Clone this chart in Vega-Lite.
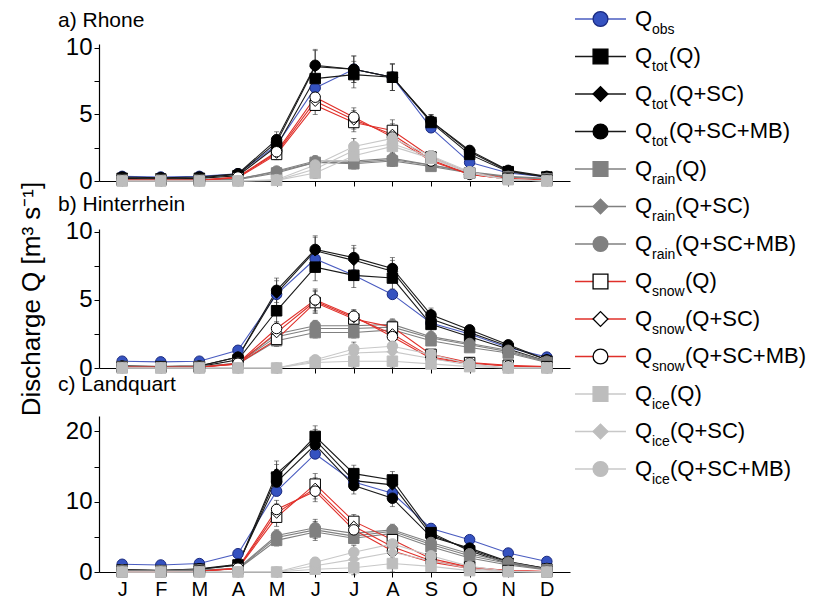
{
"$schema": "https://vega.github.io/schema/vega-lite/v6.json",
"padding": {"left": 18, "top": 7, "right": 0, "bottom": 0},
"background": "white",
"config": {"view": {"stroke": null}, "font": "Liberation Sans", "axis": {"grid": false, "domainColor": "#000", "tickColor": "#000", "labelColor": "#000", "titleColor": "#000", "labelFont": "Liberation Sans", "titleFont": "Liberation Sans", "titleFontWeight": "normal"}},
"data": {"values": [
{"p":"a","s":"obs","m":1,"v":0.35,"e":0},{"p":"a","s":"obs","m":2,"v":0.3,"e":0},{"p":"a","s":"obs","m":3,"v":0.35,"e":0},{"p":"a","s":"obs","m":4,"v":0.55,"e":0},{"p":"a","s":"obs","m":5,"v":2.7,"e":0},{"p":"a","s":"obs","m":6,"v":7.0,"e":0},{"p":"a","s":"obs","m":7,"v":8.4,"e":0},{"p":"a","s":"obs","m":8,"v":7.8,"e":0},{"p":"a","s":"obs","m":9,"v":4.0,"e":0},{"p":"a","s":"obs","m":10,"v":1.4,"e":0},{"p":"a","s":"obs","m":11,"v":0.6,"e":0},{"p":"a","s":"obs","m":12,"v":0.3,"e":0},
{"p":"a","s":"tQ","m":1,"v":0.2,"e":0.1},{"p":"a","s":"tQ","m":2,"v":0.15,"e":0.1},{"p":"a","s":"tQ","m":3,"v":0.2,"e":0.1},{"p":"a","s":"tQ","m":4,"v":0.4,"e":0.15},{"p":"a","s":"tQ","m":5,"v":2.6,"e":0.6},{"p":"a","s":"tQ","m":6,"v":7.7,"e":1.2},{"p":"a","s":"tQ","m":7,"v":8.0,"e":1.0},{"p":"a","s":"tQ","m":8,"v":7.8,"e":1.0},{"p":"a","s":"tQ","m":9,"v":4.4,"e":0.5},{"p":"a","s":"tQ","m":10,"v":2.0,"e":0.35},{"p":"a","s":"tQ","m":11,"v":0.7,"e":0.15},{"p":"a","s":"tQ","m":12,"v":0.3,"e":0.1},
{"p":"a","s":"tS","m":1,"v":0.25,"e":0.1},{"p":"a","s":"tS","m":2,"v":0.2,"e":0.1},{"p":"a","s":"tS","m":3,"v":0.25,"e":0.1},{"p":"a","s":"tS","m":4,"v":0.5,"e":0.15},{"p":"a","s":"tS","m":5,"v":2.9,"e":0.6},{"p":"a","s":"tS","m":6,"v":8.6,"e":1.2},{"p":"a","s":"tS","m":7,"v":8.4,"e":1.0},{"p":"a","s":"tS","m":8,"v":7.8,"e":1.0},{"p":"a","s":"tS","m":9,"v":4.5,"e":0.5},{"p":"a","s":"tS","m":10,"v":2.2,"e":0.35},{"p":"a","s":"tS","m":11,"v":0.75,"e":0.15},{"p":"a","s":"tS","m":12,"v":0.3,"e":0.1},
{"p":"a","s":"tM","m":1,"v":0.3,"e":0.1},{"p":"a","s":"tM","m":2,"v":0.25,"e":0.1},{"p":"a","s":"tM","m":3,"v":0.3,"e":0.1},{"p":"a","s":"tM","m":4,"v":0.55,"e":0.15},{"p":"a","s":"tM","m":5,"v":3.1,"e":0.6},{"p":"a","s":"tM","m":6,"v":8.7,"e":1.2},{"p":"a","s":"tM","m":7,"v":8.4,"e":1.0},{"p":"a","s":"tM","m":8,"v":7.8,"e":1.0},{"p":"a","s":"tM","m":9,"v":4.5,"e":0.5},{"p":"a","s":"tM","m":10,"v":2.3,"e":0.35},{"p":"a","s":"tM","m":11,"v":0.8,"e":0.15},{"p":"a","s":"tM","m":12,"v":0.35,"e":0.1},
{"p":"a","s":"rQ","m":1,"v":0.1,"e":0.05},{"p":"a","s":"rQ","m":2,"v":0.1,"e":0.05},{"p":"a","s":"rQ","m":3,"v":0.1,"e":0.05},{"p":"a","s":"rQ","m":4,"v":0.1,"e":0.1},{"p":"a","s":"rQ","m":5,"v":0.6,"e":0.3},{"p":"a","s":"rQ","m":6,"v":1.4,"e":0.4},{"p":"a","s":"rQ","m":7,"v":1.3,"e":0.4},{"p":"a","s":"rQ","m":8,"v":1.5,"e":0.4},{"p":"a","s":"rQ","m":9,"v":1.1,"e":0.3},{"p":"a","s":"rQ","m":10,"v":0.6,"e":0.2},{"p":"a","s":"rQ","m":11,"v":0.3,"e":0.1},{"p":"a","s":"rQ","m":12,"v":0.15,"e":0.05},
{"p":"a","s":"rS","m":1,"v":0.1,"e":0.05},{"p":"a","s":"rS","m":2,"v":0.1,"e":0.05},{"p":"a","s":"rS","m":3,"v":0.1,"e":0.05},{"p":"a","s":"rS","m":4,"v":0.15,"e":0.1},{"p":"a","s":"rS","m":5,"v":0.7,"e":0.3},{"p":"a","s":"rS","m":6,"v":1.4,"e":0.4},{"p":"a","s":"rS","m":7,"v":1.4,"e":0.4},{"p":"a","s":"rS","m":8,"v":1.6,"e":0.4},{"p":"a","s":"rS","m":9,"v":1.2,"e":0.3},{"p":"a","s":"rS","m":10,"v":0.65,"e":0.2},{"p":"a","s":"rS","m":11,"v":0.3,"e":0.1},{"p":"a","s":"rS","m":12,"v":0.15,"e":0.05},
{"p":"a","s":"rM","m":1,"v":0.1,"e":0.05},{"p":"a","s":"rM","m":2,"v":0.1,"e":0.05},{"p":"a","s":"rM","m":3,"v":0.1,"e":0.05},{"p":"a","s":"rM","m":4,"v":0.15,"e":0.1},{"p":"a","s":"rM","m":5,"v":0.75,"e":0.3},{"p":"a","s":"rM","m":6,"v":1.5,"e":0.4},{"p":"a","s":"rM","m":7,"v":1.5,"e":0.4},{"p":"a","s":"rM","m":8,"v":1.7,"e":0.4},{"p":"a","s":"rM","m":9,"v":1.2,"e":0.3},{"p":"a","s":"rM","m":10,"v":0.7,"e":0.2},{"p":"a","s":"rM","m":11,"v":0.35,"e":0.1},{"p":"a","s":"rM","m":12,"v":0.2,"e":0.05},
{"p":"a","s":"sQ","m":1,"v":0.05,"e":0.05},{"p":"a","s":"sQ","m":2,"v":0.05,"e":0.05},{"p":"a","s":"sQ","m":3,"v":0.05,"e":0.05},{"p":"a","s":"sQ","m":4,"v":0.25,"e":0.1},{"p":"a","s":"sQ","m":5,"v":2.0,"e":0.4},{"p":"a","s":"sQ","m":6,"v":5.7,"e":0.7},{"p":"a","s":"sQ","m":7,"v":4.4,"e":0.7},{"p":"a","s":"sQ","m":8,"v":3.8,"e":0.8},{"p":"a","s":"sQ","m":9,"v":1.8,"e":0.4},{"p":"a","s":"sQ","m":10,"v":0.6,"e":0.2},{"p":"a","s":"sQ","m":11,"v":0.2,"e":0.1},{"p":"a","s":"sQ","m":12,"v":0.05,"e":0.05},
{"p":"a","s":"sS","m":1,"v":0.05,"e":0.05},{"p":"a","s":"sS","m":2,"v":0.05,"e":0.05},{"p":"a","s":"sS","m":3,"v":0.05,"e":0.05},{"p":"a","s":"sS","m":4,"v":0.3,"e":0.1},{"p":"a","s":"sS","m":5,"v":2.1,"e":0.4},{"p":"a","s":"sS","m":6,"v":6.0,"e":0.7},{"p":"a","s":"sS","m":7,"v":4.6,"e":0.7},{"p":"a","s":"sS","m":8,"v":3.5,"e":0.8},{"p":"a","s":"sS","m":9,"v":1.6,"e":0.4},{"p":"a","s":"sS","m":10,"v":0.5,"e":0.2},{"p":"a","s":"sS","m":11,"v":0.15,"e":0.1},{"p":"a","s":"sS","m":12,"v":0.05,"e":0.05},
{"p":"a","s":"sM","m":1,"v":0.05,"e":0.05},{"p":"a","s":"sM","m":2,"v":0.05,"e":0.05},{"p":"a","s":"sM","m":3,"v":0.05,"e":0.05},{"p":"a","s":"sM","m":4,"v":0.3,"e":0.1},{"p":"a","s":"sM","m":5,"v":2.2,"e":0.4},{"p":"a","s":"sM","m":6,"v":6.3,"e":0.7},{"p":"a","s":"sM","m":7,"v":4.8,"e":0.7},{"p":"a","s":"sM","m":8,"v":3.3,"e":0.8},{"p":"a","s":"sM","m":9,"v":1.5,"e":0.4},{"p":"a","s":"sM","m":10,"v":0.5,"e":0.2},{"p":"a","s":"sM","m":11,"v":0.15,"e":0.1},{"p":"a","s":"sM","m":12,"v":0.05,"e":0.05},
{"p":"a","s":"iQ","m":1,"v":0,"e":0},{"p":"a","s":"iQ","m":2,"v":0,"e":0},{"p":"a","s":"iQ","m":3,"v":0,"e":0},{"p":"a","s":"iQ","m":4,"v":0,"e":0},{"p":"a","s":"iQ","m":5,"v":0.05,"e":0.1},{"p":"a","s":"iQ","m":6,"v":0.6,"e":0.4},{"p":"a","s":"iQ","m":7,"v":1.9,"e":0.6},{"p":"a","s":"iQ","m":8,"v":2.6,"e":0.7},{"p":"a","s":"iQ","m":9,"v":1.7,"e":0.4},{"p":"a","s":"iQ","m":10,"v":0.6,"e":0.2},{"p":"a","s":"iQ","m":11,"v":0.1,"e":0.05},{"p":"a","s":"iQ","m":12,"v":0,"e":0},
{"p":"a","s":"iS","m":1,"v":0,"e":0},{"p":"a","s":"iS","m":2,"v":0,"e":0},{"p":"a","s":"iS","m":3,"v":0,"e":0},{"p":"a","s":"iS","m":4,"v":0,"e":0},{"p":"a","s":"iS","m":5,"v":0.05,"e":0.1},{"p":"a","s":"iS","m":6,"v":0.9,"e":0.4},{"p":"a","s":"iS","m":7,"v":2.3,"e":0.6},{"p":"a","s":"iS","m":8,"v":2.8,"e":0.7},{"p":"a","s":"iS","m":9,"v":1.8,"e":0.4},{"p":"a","s":"iS","m":10,"v":0.6,"e":0.2},{"p":"a","s":"iS","m":11,"v":0.1,"e":0.05},{"p":"a","s":"iS","m":12,"v":0,"e":0},
{"p":"a","s":"iM","m":1,"v":0,"e":0},{"p":"a","s":"iM","m":2,"v":0,"e":0},{"p":"a","s":"iM","m":3,"v":0,"e":0},{"p":"a","s":"iM","m":4,"v":0,"e":0},{"p":"a","s":"iM","m":5,"v":0.1,"e":0.1},{"p":"a","s":"iM","m":6,"v":1.2,"e":0.4},{"p":"a","s":"iM","m":7,"v":2.6,"e":0.6},{"p":"a","s":"iM","m":8,"v":3.2,"e":0.7},{"p":"a","s":"iM","m":9,"v":1.9,"e":0.4},{"p":"a","s":"iM","m":10,"v":0.7,"e":0.2},{"p":"a","s":"iM","m":11,"v":0.1,"e":0.05},{"p":"a","s":"iM","m":12,"v":0,"e":0},

{"p":"b","s":"obs","m":1,"v":0.5,"e":0},{"p":"b","s":"obs","m":2,"v":0.45,"e":0},{"p":"b","s":"obs","m":3,"v":0.5,"e":0},{"p":"b","s":"obs","m":4,"v":1.3,"e":0},{"p":"b","s":"obs","m":5,"v":5.4,"e":0},{"p":"b","s":"obs","m":6,"v":8.0,"e":0},{"p":"b","s":"obs","m":7,"v":6.8,"e":0},{"p":"b","s":"obs","m":8,"v":5.4,"e":0},{"p":"b","s":"obs","m":9,"v":3.3,"e":0},{"p":"b","s":"obs","m":10,"v":2.5,"e":0},{"p":"b","s":"obs","m":11,"v":1.5,"e":0},{"p":"b","s":"obs","m":12,"v":0.8,"e":0},
{"p":"b","s":"tQ","m":1,"v":0.1,"e":0.1},{"p":"b","s":"tQ","m":2,"v":0.1,"e":0.1},{"p":"b","s":"tQ","m":3,"v":0.1,"e":0.1},{"p":"b","s":"tQ","m":4,"v":0.6,"e":0.2},{"p":"b","s":"tQ","m":5,"v":4.2,"e":0.9},{"p":"b","s":"tQ","m":6,"v":7.4,"e":1.0},{"p":"b","s":"tQ","m":7,"v":6.8,"e":0.9},{"p":"b","s":"tQ","m":8,"v":6.6,"e":0.8},{"p":"b","s":"tQ","m":9,"v":3.2,"e":0.5},{"p":"b","s":"tQ","m":10,"v":2.3,"e":0.3},{"p":"b","s":"tQ","m":11,"v":1.4,"e":0.2},{"p":"b","s":"tQ","m":12,"v":0.5,"e":0.1},
{"p":"b","s":"tS","m":1,"v":0.15,"e":0.1},{"p":"b","s":"tS","m":2,"v":0.1,"e":0.1},{"p":"b","s":"tS","m":3,"v":0.15,"e":0.1},{"p":"b","s":"tS","m":4,"v":0.8,"e":0.2},{"p":"b","s":"tS","m":5,"v":5.5,"e":0.9},{"p":"b","s":"tS","m":6,"v":8.6,"e":1.0},{"p":"b","s":"tS","m":7,"v":7.9,"e":0.9},{"p":"b","s":"tS","m":8,"v":7.1,"e":0.8},{"p":"b","s":"tS","m":9,"v":3.6,"e":0.5},{"p":"b","s":"tS","m":10,"v":2.6,"e":0.3},{"p":"b","s":"tS","m":11,"v":1.6,"e":0.2},{"p":"b","s":"tS","m":12,"v":0.6,"e":0.1},
{"p":"b","s":"tM","m":1,"v":0.15,"e":0.1},{"p":"b","s":"tM","m":2,"v":0.1,"e":0.1},{"p":"b","s":"tM","m":3,"v":0.15,"e":0.1},{"p":"b","s":"tM","m":4,"v":0.8,"e":0.2},{"p":"b","s":"tM","m":5,"v":5.7,"e":0.9},{"p":"b","s":"tM","m":6,"v":8.7,"e":1.0},{"p":"b","s":"tM","m":7,"v":8.1,"e":0.9},{"p":"b","s":"tM","m":8,"v":7.3,"e":0.8},{"p":"b","s":"tM","m":9,"v":3.9,"e":0.5},{"p":"b","s":"tM","m":10,"v":2.8,"e":0.3},{"p":"b","s":"tM","m":11,"v":1.7,"e":0.2},{"p":"b","s":"tM","m":12,"v":0.6,"e":0.1},
{"p":"b","s":"rQ","m":1,"v":0.1,"e":0.05},{"p":"b","s":"rQ","m":2,"v":0.05,"e":0.05},{"p":"b","s":"rQ","m":3,"v":0.1,"e":0.05},{"p":"b","s":"rQ","m":4,"v":0.3,"e":0.1},{"p":"b","s":"rQ","m":5,"v":2.0,"e":0.4},{"p":"b","s":"rQ","m":6,"v":2.6,"e":0.4},{"p":"b","s":"rQ","m":7,"v":2.6,"e":0.4},{"p":"b","s":"rQ","m":8,"v":2.8,"e":0.4},{"p":"b","s":"rQ","m":9,"v":2.0,"e":0.3},{"p":"b","s":"rQ","m":10,"v":1.5,"e":0.25},{"p":"b","s":"rQ","m":11,"v":1.1,"e":0.2},{"p":"b","s":"rQ","m":12,"v":0.4,"e":0.1},
{"p":"b","s":"rS","m":1,"v":0.1,"e":0.05},{"p":"b","s":"rS","m":2,"v":0.05,"e":0.05},{"p":"b","s":"rS","m":3,"v":0.1,"e":0.05},{"p":"b","s":"rS","m":4,"v":0.35,"e":0.1},{"p":"b","s":"rS","m":5,"v":2.3,"e":0.4},{"p":"b","s":"rS","m":6,"v":2.9,"e":0.4},{"p":"b","s":"rS","m":7,"v":2.9,"e":0.4},{"p":"b","s":"rS","m":8,"v":3.0,"e":0.4},{"p":"b","s":"rS","m":9,"v":2.2,"e":0.3},{"p":"b","s":"rS","m":10,"v":1.7,"e":0.25},{"p":"b","s":"rS","m":11,"v":1.2,"e":0.2},{"p":"b","s":"rS","m":12,"v":0.45,"e":0.1},
{"p":"b","s":"rM","m":1,"v":0.1,"e":0.05},{"p":"b","s":"rM","m":2,"v":0.05,"e":0.05},{"p":"b","s":"rM","m":3,"v":0.1,"e":0.05},{"p":"b","s":"rM","m":4,"v":0.35,"e":0.1},{"p":"b","s":"rM","m":5,"v":2.5,"e":0.4},{"p":"b","s":"rM","m":6,"v":3.1,"e":0.4},{"p":"b","s":"rM","m":7,"v":3.1,"e":0.4},{"p":"b","s":"rM","m":8,"v":3.2,"e":0.4},{"p":"b","s":"rM","m":9,"v":2.3,"e":0.3},{"p":"b","s":"rM","m":10,"v":1.8,"e":0.25},{"p":"b","s":"rM","m":11,"v":1.3,"e":0.2},{"p":"b","s":"rM","m":12,"v":0.5,"e":0.1},
{"p":"b","s":"sQ","m":1,"v":0.05,"e":0.05},{"p":"b","s":"sQ","m":2,"v":0.05,"e":0.05},{"p":"b","s":"sQ","m":3,"v":0.05,"e":0.05},{"p":"b","s":"sQ","m":4,"v":0.3,"e":0.1},{"p":"b","s":"sQ","m":5,"v":2.1,"e":0.5},{"p":"b","s":"sQ","m":6,"v":4.8,"e":0.8},{"p":"b","s":"sQ","m":7,"v":3.6,"e":0.5},{"p":"b","s":"sQ","m":8,"v":3.0,"e":0.4},{"p":"b","s":"sQ","m":9,"v":1.0,"e":0.2},{"p":"b","s":"sQ","m":10,"v":0.4,"e":0.15},{"p":"b","s":"sQ","m":11,"v":0.2,"e":0.1},{"p":"b","s":"sQ","m":12,"v":0.1,"e":0.05},
{"p":"b","s":"sS","m":1,"v":0.05,"e":0.05},{"p":"b","s":"sS","m":2,"v":0.05,"e":0.05},{"p":"b","s":"sS","m":3,"v":0.05,"e":0.05},{"p":"b","s":"sS","m":4,"v":0.3,"e":0.1},{"p":"b","s":"sS","m":5,"v":2.6,"e":0.5},{"p":"b","s":"sS","m":6,"v":4.9,"e":0.8},{"p":"b","s":"sS","m":7,"v":3.7,"e":0.5},{"p":"b","s":"sS","m":8,"v":2.5,"e":0.4},{"p":"b","s":"sS","m":9,"v":0.8,"e":0.2},{"p":"b","s":"sS","m":10,"v":0.35,"e":0.15},{"p":"b","s":"sS","m":11,"v":0.15,"e":0.1},{"p":"b","s":"sS","m":12,"v":0.05,"e":0.05},
{"p":"b","s":"sM","m":1,"v":0.05,"e":0.05},{"p":"b","s":"sM","m":2,"v":0.05,"e":0.05},{"p":"b","s":"sM","m":3,"v":0.05,"e":0.05},{"p":"b","s":"sM","m":4,"v":0.35,"e":0.1},{"p":"b","s":"sM","m":5,"v":2.9,"e":0.5},{"p":"b","s":"sM","m":6,"v":5.0,"e":0.8},{"p":"b","s":"sM","m":7,"v":3.8,"e":0.5},{"p":"b","s":"sM","m":8,"v":2.3,"e":0.4},{"p":"b","s":"sM","m":9,"v":0.7,"e":0.2},{"p":"b","s":"sM","m":10,"v":0.35,"e":0.15},{"p":"b","s":"sM","m":11,"v":0.15,"e":0.1},{"p":"b","s":"sM","m":12,"v":0.05,"e":0.05},
{"p":"b","s":"iQ","m":1,"v":0,"e":0},{"p":"b","s":"iQ","m":2,"v":0,"e":0},{"p":"b","s":"iQ","m":3,"v":0,"e":0},{"p":"b","s":"iQ","m":4,"v":0,"e":0},{"p":"b","s":"iQ","m":5,"v":0,"e":0.05},{"p":"b","s":"iQ","m":6,"v":0.4,"e":0.3},{"p":"b","s":"iQ","m":7,"v":0.5,"e":0.5},{"p":"b","s":"iQ","m":8,"v":0.5,"e":0.5},{"p":"b","s":"iQ","m":9,"v":0.3,"e":0.3},{"p":"b","s":"iQ","m":10,"v":0.1,"e":0.1},{"p":"b","s":"iQ","m":11,"v":0,"e":0},{"p":"b","s":"iQ","m":12,"v":0,"e":0},
{"p":"b","s":"iS","m":1,"v":0,"e":0},{"p":"b","s":"iS","m":2,"v":0,"e":0},{"p":"b","s":"iS","m":3,"v":0,"e":0},{"p":"b","s":"iS","m":4,"v":0,"e":0},{"p":"b","s":"iS","m":5,"v":0,"e":0.05},{"p":"b","s":"iS","m":6,"v":0.5,"e":0.3},{"p":"b","s":"iS","m":7,"v":1.1,"e":0.5},{"p":"b","s":"iS","m":8,"v":1.2,"e":0.5},{"p":"b","s":"iS","m":9,"v":0.7,"e":0.3},{"p":"b","s":"iS","m":10,"v":0.2,"e":0.1},{"p":"b","s":"iS","m":11,"v":0,"e":0},{"p":"b","s":"iS","m":12,"v":0,"e":0},
{"p":"b","s":"iM","m":1,"v":0,"e":0},{"p":"b","s":"iM","m":2,"v":0,"e":0},{"p":"b","s":"iM","m":3,"v":0,"e":0},{"p":"b","s":"iM","m":4,"v":0,"e":0},{"p":"b","s":"iM","m":5,"v":0,"e":0.05},{"p":"b","s":"iM","m":6,"v":0.6,"e":0.3},{"p":"b","s":"iM","m":7,"v":1.4,"e":0.5},{"p":"b","s":"iM","m":8,"v":1.6,"e":0.5},{"p":"b","s":"iM","m":9,"v":1.0,"e":0.3},{"p":"b","s":"iM","m":10,"v":0.3,"e":0.1},{"p":"b","s":"iM","m":11,"v":0,"e":0},{"p":"b","s":"iM","m":12,"v":0,"e":0},

{"p":"c","s":"obs","m":1,"v":1.1,"e":0},{"p":"c","s":"obs","m":2,"v":1.0,"e":0},{"p":"c","s":"obs","m":3,"v":1.2,"e":0},{"p":"c","s":"obs","m":4,"v":2.6,"e":0},{"p":"c","s":"obs","m":5,"v":11.5,"e":0},{"p":"c","s":"obs","m":6,"v":16.8,"e":0},{"p":"c","s":"obs","m":7,"v":12.8,"e":0},{"p":"c","s":"obs","m":8,"v":11.2,"e":0},{"p":"c","s":"obs","m":9,"v":6.2,"e":0},{"p":"c","s":"obs","m":10,"v":4.6,"e":0},{"p":"c","s":"obs","m":11,"v":2.7,"e":0},{"p":"c","s":"obs","m":12,"v":1.5,"e":0},
{"p":"c","s":"tQ","m":1,"v":0.3,"e":0.2},{"p":"c","s":"tQ","m":2,"v":0.2,"e":0.2},{"p":"c","s":"tQ","m":3,"v":0.4,"e":0.2},{"p":"c","s":"tQ","m":4,"v":1.0,"e":0.4},{"p":"c","s":"tQ","m":5,"v":13.5,"e":1.8},{"p":"c","s":"tQ","m":6,"v":19.3,"e":1.5},{"p":"c","s":"tQ","m":7,"v":14.0,"e":1.2},{"p":"c","s":"tQ","m":8,"v":13.1,"e":1.2},{"p":"c","s":"tQ","m":9,"v":5.6,"e":0.6},{"p":"c","s":"tQ","m":10,"v":3.0,"e":0.4},{"p":"c","s":"tQ","m":11,"v":1.2,"e":0.3},{"p":"c","s":"tQ","m":12,"v":0.4,"e":0.2},
{"p":"c","s":"tS","m":1,"v":0.3,"e":0.2},{"p":"c","s":"tS","m":2,"v":0.2,"e":0.2},{"p":"c","s":"tS","m":3,"v":0.4,"e":0.2},{"p":"c","s":"tS","m":4,"v":1.0,"e":0.4},{"p":"c","s":"tS","m":5,"v":14.0,"e":1.8},{"p":"c","s":"tS","m":6,"v":18.8,"e":1.5},{"p":"c","s":"tS","m":7,"v":13.0,"e":1.2},{"p":"c","s":"tS","m":8,"v":12.4,"e":1.2},{"p":"c","s":"tS","m":9,"v":5.3,"e":0.6},{"p":"c","s":"tS","m":10,"v":3.2,"e":0.4},{"p":"c","s":"tS","m":11,"v":1.4,"e":0.3},{"p":"c","s":"tS","m":12,"v":0.5,"e":0.2},
{"p":"c","s":"tM","m":1,"v":0.3,"e":0.2},{"p":"c","s":"tM","m":2,"v":0.2,"e":0.2},{"p":"c","s":"tM","m":3,"v":0.45,"e":0.2},{"p":"c","s":"tM","m":4,"v":1.1,"e":0.4},{"p":"c","s":"tM","m":5,"v":12.8,"e":1.8},{"p":"c","s":"tM","m":6,"v":18.1,"e":1.5},{"p":"c","s":"tM","m":7,"v":12.3,"e":1.2},{"p":"c","s":"tM","m":8,"v":10.5,"e":1.2},{"p":"c","s":"tM","m":9,"v":5.0,"e":0.6},{"p":"c","s":"tM","m":10,"v":3.4,"e":0.4},{"p":"c","s":"tM","m":11,"v":1.5,"e":0.3},{"p":"c","s":"tM","m":12,"v":0.5,"e":0.2},
{"p":"c","s":"rQ","m":1,"v":0.2,"e":0.1},{"p":"c","s":"rQ","m":2,"v":0.15,"e":0.1},{"p":"c","s":"rQ","m":3,"v":0.25,"e":0.1},{"p":"c","s":"rQ","m":4,"v":0.4,"e":0.2},{"p":"c","s":"rQ","m":5,"v":4.5,"e":0.8},{"p":"c","s":"rQ","m":6,"v":5.7,"e":1.2},{"p":"c","s":"rQ","m":7,"v":4.8,"e":0.8},{"p":"c","s":"rQ","m":8,"v":5.5,"e":0.8},{"p":"c","s":"rQ","m":9,"v":3.6,"e":0.6},{"p":"c","s":"rQ","m":10,"v":2.0,"e":0.4},{"p":"c","s":"rQ","m":11,"v":1.0,"e":0.3},{"p":"c","s":"rQ","m":12,"v":0.3,"e":0.1},
{"p":"c","s":"rS","m":1,"v":0.2,"e":0.1},{"p":"c","s":"rS","m":2,"v":0.15,"e":0.1},{"p":"c","s":"rS","m":3,"v":0.25,"e":0.1},{"p":"c","s":"rS","m":4,"v":0.45,"e":0.2},{"p":"c","s":"rS","m":5,"v":4.9,"e":0.8},{"p":"c","s":"rS","m":6,"v":6.0,"e":1.2},{"p":"c","s":"rS","m":7,"v":5.1,"e":0.8},{"p":"c","s":"rS","m":8,"v":5.8,"e":0.8},{"p":"c","s":"rS","m":9,"v":3.9,"e":0.6},{"p":"c","s":"rS","m":10,"v":2.3,"e":0.4},{"p":"c","s":"rS","m":11,"v":1.2,"e":0.3},{"p":"c","s":"rS","m":12,"v":0.35,"e":0.1},
{"p":"c","s":"rM","m":1,"v":0.25,"e":0.1},{"p":"c","s":"rM","m":2,"v":0.2,"e":0.1},{"p":"c","s":"rM","m":3,"v":0.3,"e":0.1},{"p":"c","s":"rM","m":4,"v":0.5,"e":0.2},{"p":"c","s":"rM","m":5,"v":5.2,"e":0.8},{"p":"c","s":"rM","m":6,"v":6.3,"e":1.2},{"p":"c","s":"rM","m":7,"v":5.5,"e":0.8},{"p":"c","s":"rM","m":8,"v":6.0,"e":0.8},{"p":"c","s":"rM","m":9,"v":4.2,"e":0.6},{"p":"c","s":"rM","m":10,"v":2.6,"e":0.4},{"p":"c","s":"rM","m":11,"v":1.4,"e":0.3},{"p":"c","s":"rM","m":12,"v":0.4,"e":0.1},
{"p":"c","s":"sQ","m":1,"v":0.05,"e":0.05},{"p":"c","s":"sQ","m":2,"v":0.05,"e":0.05},{"p":"c","s":"sQ","m":3,"v":0.1,"e":0.1},{"p":"c","s":"sQ","m":4,"v":0.5,"e":0.3},{"p":"c","s":"sQ","m":5,"v":7.8,"e":1.3},{"p":"c","s":"sQ","m":6,"v":12.5,"e":1.5},{"p":"c","s":"sQ","m":7,"v":7.2,"e":1.0},{"p":"c","s":"sQ","m":8,"v":4.6,"e":1.0},{"p":"c","s":"sQ","m":9,"v":1.9,"e":0.4},{"p":"c","s":"sQ","m":10,"v":0.7,"e":0.3},{"p":"c","s":"sQ","m":11,"v":0.2,"e":0.1},{"p":"c","s":"sQ","m":12,"v":0.05,"e":0.05},
{"p":"c","s":"sS","m":1,"v":0.05,"e":0.05},{"p":"c","s":"sS","m":2,"v":0.05,"e":0.05},{"p":"c","s":"sS","m":3,"v":0.1,"e":0.1},{"p":"c","s":"sS","m":4,"v":0.5,"e":0.3},{"p":"c","s":"sS","m":5,"v":8.4,"e":1.3},{"p":"c","s":"sS","m":6,"v":11.9,"e":1.5},{"p":"c","s":"sS","m":7,"v":6.5,"e":1.0},{"p":"c","s":"sS","m":8,"v":3.6,"e":1.0},{"p":"c","s":"sS","m":9,"v":1.6,"e":0.4},{"p":"c","s":"sS","m":10,"v":0.6,"e":0.3},{"p":"c","s":"sS","m":11,"v":0.2,"e":0.1},{"p":"c","s":"sS","m":12,"v":0.05,"e":0.05},
{"p":"c","s":"sM","m":1,"v":0.05,"e":0.05},{"p":"c","s":"sM","m":2,"v":0.05,"e":0.05},{"p":"c","s":"sM","m":3,"v":0.1,"e":0.1},{"p":"c","s":"sM","m":4,"v":0.55,"e":0.3},{"p":"c","s":"sM","m":5,"v":8.9,"e":1.3},{"p":"c","s":"sM","m":6,"v":11.5,"e":1.5},{"p":"c","s":"sM","m":7,"v":6.0,"e":1.0},{"p":"c","s":"sM","m":8,"v":3.0,"e":1.0},{"p":"c","s":"sM","m":9,"v":1.4,"e":0.4},{"p":"c","s":"sM","m":10,"v":0.5,"e":0.3},{"p":"c","s":"sM","m":11,"v":0.15,"e":0.1},{"p":"c","s":"sM","m":12,"v":0.05,"e":0.05},
{"p":"c","s":"iQ","m":1,"v":0,"e":0},{"p":"c","s":"iQ","m":2,"v":0,"e":0},{"p":"c","s":"iQ","m":3,"v":0,"e":0},{"p":"c","s":"iQ","m":4,"v":0,"e":0},{"p":"c","s":"iQ","m":5,"v":0,"e":0.1},{"p":"c","s":"iQ","m":6,"v":0.4,"e":0.6},{"p":"c","s":"iQ","m":7,"v":0.6,"e":1.0},{"p":"c","s":"iQ","m":8,"v":1.2,"e":1.2},{"p":"c","s":"iQ","m":9,"v":0.8,"e":0.7},{"p":"c","s":"iQ","m":10,"v":0.2,"e":0.3},{"p":"c","s":"iQ","m":11,"v":0.05,"e":0.05},{"p":"c","s":"iQ","m":12,"v":0,"e":0},
{"p":"c","s":"iS","m":1,"v":0,"e":0},{"p":"c","s":"iS","m":2,"v":0,"e":0},{"p":"c","s":"iS","m":3,"v":0,"e":0},{"p":"c","s":"iS","m":4,"v":0,"e":0},{"p":"c","s":"iS","m":5,"v":0,"e":0.1},{"p":"c","s":"iS","m":6,"v":0.9,"e":0.6},{"p":"c","s":"iS","m":7,"v":1.8,"e":1.0},{"p":"c","s":"iS","m":8,"v":2.8,"e":1.2},{"p":"c","s":"iS","m":9,"v":1.6,"e":0.7},{"p":"c","s":"iS","m":10,"v":0.5,"e":0.3},{"p":"c","s":"iS","m":11,"v":0.05,"e":0.05},{"p":"c","s":"iS","m":12,"v":0,"e":0},
{"p":"c","s":"iM","m":1,"v":0,"e":0},{"p":"c","s":"iM","m":2,"v":0,"e":0},{"p":"c","s":"iM","m":3,"v":0,"e":0},{"p":"c","s":"iM","m":4,"v":0,"e":0},{"p":"c","s":"iM","m":5,"v":0,"e":0.1},{"p":"c","s":"iM","m":6,"v":1.4,"e":0.6},{"p":"c","s":"iM","m":7,"v":2.8,"e":1.0},{"p":"c","s":"iM","m":8,"v":4.0,"e":1.2},{"p":"c","s":"iM","m":9,"v":2.3,"e":0.7},{"p":"c","s":"iM","m":10,"v":0.8,"e":0.3},{"p":"c","s":"iM","m":11,"v":0.1,"e":0.05},{"p":"c","s":"iM","m":12,"v":0,"e":0}
]},
"spacing": 4,
"hconcat": [
{
"spacing": 48,
"bounds": "flush",
"resolve": {"scale": {"y": "independent"}},
"vconcat": [
{
"width": 471, "height": 137,
"title": {"text": "a) Rhone", "anchor": "start", "frame": "group", "dx": -41, "fontSize": 21, "fontWeight": "normal", "font": "Liberation Sans", "offset": 5},
"transform": [{"filter": "datum.p == 'a'"}],
"encoding": {
"x": {"field": "m", "type": "ordinal", "scale": {"type": "point", "padding": 0.6}, "axis": {"labels": false, "title": null, "tickSize": 5, "domainWidth": 1.2}},
"y": {"field": "v", "type": "quantitative", "scale": {"domain": [0, 10.3], "nice": false}, "axis": {"values": [0, 2.5, 5, 7.5, 10], "labelExpr": "datum.value % 5 == 0 ? datum.label : ''", "labelFontSize": 24, "labelPadding": 2, "tickSize": 5, "title": null, "domainWidth": 1.2}}
},
"layer": [
{"mark": {"type": "line", "strokeWidth": 1.1}, "encoding": {"color": {"field": "s", "type": "nominal", "legend": null, "scale": {"domain": ["obs","tQ","tS","tM","rQ","rS","rM","sQ","sS","sM","iQ","iS","iM"], "range": ["#4a5cc0","#1a1a1a","#1a1a1a","#1a1a1a","#808080","#808080","#808080","#e0302a","#e0302a","#e0302a","#c8c8c8","#c8c8c8","#c8c8c8"]}}}},
{"mark": {"type": "errorbar", "ticks": true, "size": 5, "thickness": 0.8, "color": "#333"}, "encoding": {"yError": {"field": "e"}, "detail": {"field": "s"}}},
{"mark": {"type": "point", "filled": true, "size": 110, "strokeWidth": 1, "opacity": 1}, "encoding": {
"shape": {"field": "s", "type": "nominal", "legend": null, "scale": {"domain": ["obs","tQ","tS","tM","rQ","rS","rM","sQ","sS","sM","iQ","iS","iM"], "range": ["circle","square","diamond","circle","square","diamond","circle","square","diamond","circle","square","diamond","circle"]}},
"fill": {"field": "s", "type": "nominal", "legend": null, "scale": {"domain": ["obs","tQ","tS","tM","rQ","rS","rM","sQ","sS","sM","iQ","iS","iM"], "range": ["#3552c0","#000000","#000000","#000000","#808080","#808080","#808080","#ffffff","#ffffff","#ffffff","#bdbdbd","#bdbdbd","#bdbdbd"]}},
"stroke": {"field": "s", "type": "nominal", "legend": null, "scale": {"domain": ["obs","tQ","tS","tM","rQ","rS","rM","sQ","sS","sM","iQ","iS","iM"], "range": ["#1a2a80","#000000","#000000","#000000","#808080","#808080","#808080","#000000","#000000","#000000","#bdbdbd","#bdbdbd","#bdbdbd"]}}
}}
]
},
{
"width": 471, "height": 139,
"title": {"text": "b) Hinterrhein", "anchor": "start", "frame": "group", "dx": -41, "fontSize": 21, "fontWeight": "normal", "font": "Liberation Sans", "offset": -34},
"transform": [{"filter": "datum.p == 'b'"}],
"encoding": {
"x": {"field": "m", "type": "ordinal", "scale": {"type": "point", "padding": 0.6}, "axis": {"labels": false, "title": null, "tickSize": 5, "domainWidth": 1.2}},
"y": {"field": "v", "type": "quantitative", "scale": {"domain": [0, 10.2], "nice": false}, "axis": {"values": [0, 2.5, 5, 7.5, 10], "labelExpr": "datum.value % 5 == 0 ? datum.label : ''", "labelFontSize": 24, "labelPadding": 2, "tickSize": 5, "title": "Discharge Q [m³ s⁻¹]", "titleFontSize": 26, "titlePadding": 21, "domainWidth": 1.2}}
},
"layer": [
{"mark": {"type": "line", "strokeWidth": 1.1}, "encoding": {"color": {"field": "s", "type": "nominal", "legend": null, "scale": {"domain": ["obs","tQ","tS","tM","rQ","rS","rM","sQ","sS","sM","iQ","iS","iM"], "range": ["#4a5cc0","#1a1a1a","#1a1a1a","#1a1a1a","#808080","#808080","#808080","#e0302a","#e0302a","#e0302a","#c8c8c8","#c8c8c8","#c8c8c8"]}}}},
{"mark": {"type": "errorbar", "ticks": true, "size": 5, "thickness": 0.8, "color": "#333"}, "encoding": {"yError": {"field": "e"}, "detail": {"field": "s"}}},
{"mark": {"type": "point", "filled": true, "size": 110, "strokeWidth": 1, "opacity": 1}, "encoding": {
"shape": {"field": "s", "type": "nominal", "legend": null, "scale": {"domain": ["obs","tQ","tS","tM","rQ","rS","rM","sQ","sS","sM","iQ","iS","iM"], "range": ["circle","square","diamond","circle","square","diamond","circle","square","diamond","circle","square","diamond","circle"]}},
"fill": {"field": "s", "type": "nominal", "legend": null, "scale": {"domain": ["obs","tQ","tS","tM","rQ","rS","rM","sQ","sS","sM","iQ","iS","iM"], "range": ["#3552c0","#000000","#000000","#000000","#808080","#808080","#808080","#ffffff","#ffffff","#ffffff","#bdbdbd","#bdbdbd","#bdbdbd"]}},
"stroke": {"field": "s", "type": "nominal", "legend": null, "scale": {"domain": ["obs","tQ","tS","tM","rQ","rS","rM","sQ","sS","sM","iQ","iS","iM"], "range": ["#1a2a80","#000000","#000000","#000000","#808080","#808080","#808080","#000000","#000000","#000000","#bdbdbd","#bdbdbd","#bdbdbd"]}}
}}
]
},
{
"width": 471, "height": 156,
"title": {"text": "c) Landquart", "anchor": "start", "frame": "group", "dx": -41, "fontSize": 21, "fontWeight": "normal", "font": "Liberation Sans", "offset": 21},
"transform": [{"filter": "datum.p == 'c'"}],
"encoding": {
"x": {"field": "m", "type": "ordinal", "scale": {"type": "point", "padding": 0.6}, "axis": {"title": null, "tickSize": 5, "labelAngle": 0, "labelFontSize": 20, "labelPadding": 2, "labelExpr": "['J','F','M','A','M','J','J','A','S','O','N','D'][datum.value - 1]", "domainWidth": 1.2}},
"y": {"field": "v", "type": "quantitative", "scale": {"domain": [0, 22.2], "nice": false}, "axis": {"values": [0, 5, 10, 15, 20], "labelExpr": "datum.value % 10 == 0 ? datum.label : ''", "labelFontSize": 24, "labelPadding": 2, "tickSize": 5, "title": null, "domainWidth": 1.2}}
},
"layer": [
{"mark": {"type": "line", "strokeWidth": 1.1}, "encoding": {"color": {"field": "s", "type": "nominal", "legend": null, "scale": {"domain": ["obs","tQ","tS","tM","rQ","rS","rM","sQ","sS","sM","iQ","iS","iM"], "range": ["#4a5cc0","#1a1a1a","#1a1a1a","#1a1a1a","#808080","#808080","#808080","#e0302a","#e0302a","#e0302a","#c8c8c8","#c8c8c8","#c8c8c8"]}}}},
{"mark": {"type": "errorbar", "ticks": true, "size": 5, "thickness": 0.8, "color": "#333"}, "encoding": {"yError": {"field": "e"}, "detail": {"field": "s"}}},
{"mark": {"type": "point", "filled": true, "size": 110, "strokeWidth": 1, "opacity": 1}, "encoding": {
"shape": {"field": "s", "type": "nominal", "legend": null, "scale": {"domain": ["obs","tQ","tS","tM","rQ","rS","rM","sQ","sS","sM","iQ","iS","iM"], "range": ["circle","square","diamond","circle","square","diamond","circle","square","diamond","circle","square","diamond","circle"]}},
"fill": {"field": "s", "type": "nominal", "legend": null, "scale": {"domain": ["obs","tQ","tS","tM","rQ","rS","rM","sQ","sS","sM","iQ","iS","iM"], "range": ["#3552c0","#000000","#000000","#000000","#808080","#808080","#808080","#ffffff","#ffffff","#ffffff","#bdbdbd","#bdbdbd","#bdbdbd"]}},
"stroke": {"field": "s", "type": "nominal", "legend": null, "scale": {"domain": ["obs","tQ","tS","tM","rQ","rS","rM","sQ","sS","sM","iQ","iS","iM"], "range": ["#1a2a80","#000000","#000000","#000000","#808080","#808080","#808080","#000000","#000000","#000000","#bdbdbd","#bdbdbd","#bdbdbd"]}}
}}
]
}
]
},
{
"width": 240, "height": 450,
"data": {"values": [
{"s":"obs","k":1,"sub":"obs","par":"","g":"obs"},
{"s":"tQ","k":2,"sub":"tot","par":"(Q)","g":"tot"},
{"s":"tS","k":3,"sub":"tot","par":"(Q+SC)","g":"tot"},
{"s":"tM","k":4,"sub":"tot","par":"(Q+SC+MB)","g":"tot"},
{"s":"rQ","k":5,"sub":"rain","par":"(Q)","g":"rain"},
{"s":"rS","k":6,"sub":"rain","par":"(Q+SC)","g":"rain"},
{"s":"rM","k":7,"sub":"rain","par":"(Q+SC+MB)","g":"rain"},
{"s":"sQ","k":8,"sub":"snow","par":"(Q)","g":"snow"},
{"s":"sS","k":9,"sub":"snow","par":"(Q+SC)","g":"snow"},
{"s":"sM","k":10,"sub":"snow","par":"(Q+SC+MB)","g":"snow"},
{"s":"iQ","k":11,"sub":"ice","par":"(Q)","g":"ice"},
{"s":"iS","k":12,"sub":"ice","par":"(Q+SC)","g":"ice"},
{"s":"iM","k":13,"sub":"ice","par":"(Q+SC+MB)","g":"ice"}
]},
"encoding": {"y": {"field": "k", "type": "quantitative", "scale": {"domain": [1.667, 13.667], "reverse": true, "nice": false, "zero": false}, "axis": null}},
"layer": [
{"mark": {"type": "rule", "strokeWidth": 1.4}, "encoding": {"x": {"datum": 0, "type": "quantitative", "scale": {"domain": [0, 24]}, "axis": null}, "x2": {"datum": 5.1}, "color": {"field": "s", "type": "nominal", "legend": null, "scale": {"domain": ["obs","tQ","tS","tM","rQ","rS","rM","sQ","sS","sM","iQ","iS","iM"], "range": ["#4a5cc0","#1a1a1a","#1a1a1a","#1a1a1a","#808080","#808080","#808080","#e0302a","#e0302a","#e0302a","#c8c8c8","#c8c8c8","#c8c8c8"]}}}},
{"mark": {"type": "point", "filled": true, "size": 220, "strokeWidth": 1.3, "opacity": 1}, "encoding": {
"x": {"datum": 2.55, "type": "quantitative"},
"shape": {"field": "s", "type": "nominal", "legend": null, "scale": {"domain": ["obs","tQ","tS","tM","rQ","rS","rM","sQ","sS","sM","iQ","iS","iM"], "range": ["circle","square","diamond","circle","square","diamond","circle","square","diamond","circle","square","diamond","circle"]}},
"fill": {"field": "s", "type": "nominal", "legend": null, "scale": {"domain": ["obs","tQ","tS","tM","rQ","rS","rM","sQ","sS","sM","iQ","iS","iM"], "range": ["#3552c0","#000000","#000000","#000000","#808080","#808080","#808080","#ffffff","#ffffff","#ffffff","#bdbdbd","#bdbdbd","#bdbdbd"]}},
"stroke": {"field": "s", "type": "nominal", "legend": null, "scale": {"domain": ["obs","tQ","tS","tM","rQ","rS","rM","sQ","sS","sM","iQ","iS","iM"], "range": ["#1a2a80","#000000","#000000","#000000","#808080","#808080","#808080","#000000","#000000","#000000","#bdbdbd","#bdbdbd","#bdbdbd"]}}
}},
{"mark": {"type": "text", "align": "left", "baseline": "middle", "fontSize": 22, "font": "Liberation Sans", "color": "#000"}, "encoding": {"x": {"datum": 6.0, "type": "quantitative"}, "text": {"value": "Q"}}},
{"mark": {"type": "text", "align": "left", "baseline": "middle", "fontSize": 14, "dy": 11, "font": "Liberation Sans", "color": "#000"}, "encoding": {"x": {"datum": 7.7, "type": "quantitative"}, "text": {"field": "sub"}}},
{"transform": [{"filter": "datum.g == 'tot'"}], "mark": {"type": "text", "align": "left", "baseline": "middle", "fontSize": 22, "font": "Liberation Sans", "color": "#000"}, "encoding": {"x": {"datum": 9.4, "type": "quantitative"}, "text": {"field": "par"}}},
{"transform": [{"filter": "datum.g == 'rain'"}], "mark": {"type": "text", "align": "left", "baseline": "middle", "fontSize": 22, "font": "Liberation Sans", "color": "#000"}, "encoding": {"x": {"datum": 10.0, "type": "quantitative"}, "text": {"field": "par"}}},
{"transform": [{"filter": "datum.g == 'snow'"}], "mark": {"type": "text", "align": "left", "baseline": "middle", "fontSize": 22, "font": "Liberation Sans", "color": "#000"}, "encoding": {"x": {"datum": 11.0, "type": "quantitative"}, "text": {"field": "par"}}},
{"transform": [{"filter": "datum.g == 'ice'"}], "mark": {"type": "text", "align": "left", "baseline": "middle", "fontSize": 22, "font": "Liberation Sans", "color": "#000"}, "encoding": {"x": {"datum": 9.5, "type": "quantitative"}, "text": {"field": "par"}}}
]
}
]
}
